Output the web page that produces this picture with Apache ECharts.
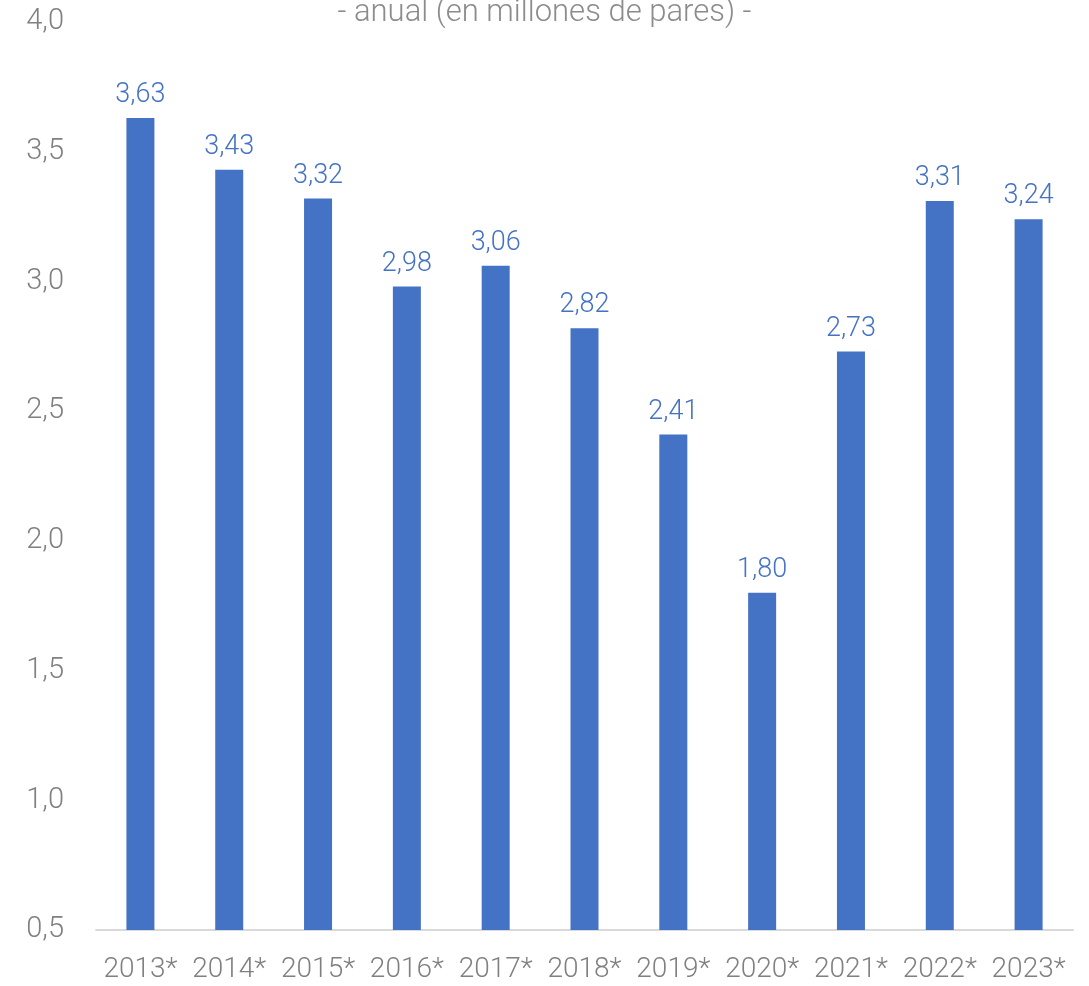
<!DOCTYPE html>
<html>
<head>
<meta charset="utf-8">
<script src="https://cdn.jsdelivr.net/npm/echarts@6/dist/echarts.min.js"></script>
<style>
  html, body { margin: 0; padding: 0; background: #ffffff; }
  #chart { width: 1089px; height: 986px; }
</style>
</head>
<body>
<div id="chart"></div>
<script>
// Annual figures, millions of pairs
const years = ['2013*', '2014*', '2015*', '2016*', '2017*', '2018*', '2019*', '2020*', '2021*', '2022*', '2023*'];
const pairs = [3.63, 3.43, 3.32, 2.98, 3.06, 2.82, 2.41, 1.80, 2.73, 3.31, 3.24];
const subtitle = '- anual (en millones de pares) -';

const fmt = v => v.toFixed(2).replace('.', ',');
const fmtAxis = v => v.toFixed(1).replace('.', ',');

const chart = echarts.init(document.getElementById('chart'));
chart.setOption({
  backgroundColor: '#ffffff',
  animation: false,
  textStyle: { fontFamily: 'Roboto', fontWeight: 300 },
  title: {
    text: subtitle,
    left: 'center',
    top: -7,
    textStyle: { fontFamily: 'Roboto', fontWeight: 300, fontSize: 31, color: '#8c8c8c' }
  },
  grid: { left: 96, right: 16, top: 22, bottom: 56, containLabel: false },
  xAxis: {
    type: 'category',
    data: years,
    axisLine: { show: true, lineStyle: { color: '#d9d9d9', width: 2 } },
    axisTick: { show: false },
    axisLabel: { color: '#808080', fontSize: 28, fontFamily: 'Roboto', fontWeight: 300, margin: 26, interval: 0 }
  },
  yAxis: {
    type: 'value',
    min: 0.5,
    max: 4.0,
    interval: 0.5,
    axisLine: { show: false },
    axisTick: { show: false },
    splitLine: { show: false },
    axisLabel: { color: '#808080', fontSize: 29, fontFamily: 'Roboto', fontWeight: 300, margin: 32, formatter: fmtAxis }
  },
  series: [{
    type: 'bar',
    data: pairs,
    barWidth: 28,
    itemStyle: { color: '#4472C4' },
    label: {
      show: true,
      position: 'top',
      distance: 9,
      color: '#4472C4',
      fontSize: 27,
      fontFamily: 'Roboto',
      fontWeight: 300,
      formatter: p => fmt(p.value)
    }
  }]
});
</script>
</body>
</html>
